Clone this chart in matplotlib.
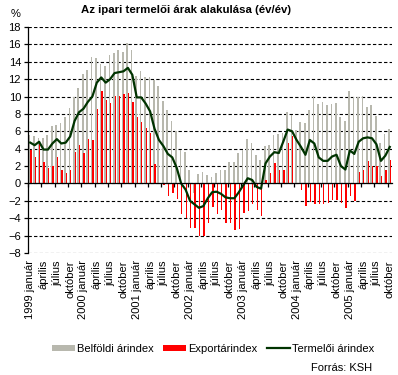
import matplotlib
matplotlib.use("Agg")
import matplotlib.pyplot as plt
import matplotlib.transforms as mtransforms
import numpy as np

plt.rcParams['font.family'] = ['Liberation Sans', 'DejaVu Sans']

# monthly data, 1999 January - 2005 October
years = [1999, 2000, 2001, 2002, 2003, 2004, 2005]
quarter_months = ['január', 'április', 'július', 'október']

belfoldi = [5.6, 5.5, 5.2, 5.2, 5.6, 6.6, 6.7, 7.0, 7.7, 8.7, 10.0, 11.0, 12.6, 13.1,
            14.6, 14.4, 13.8, 13.5, 14.8, 15.0, 15.4, 15.1, 16.2, 15.4, 12.4, 12.9, 12.2, 12.2,
            11.9, 11.2, 9.5, 8.4, 7.2, 6.0, 3.9, 3.6, 1.6, -1.05, 1.1, 1.3, 1.0,
            0.7, 1.2, 1.5, 1.6, 2.5, 2.5, 3.55, 3.8, 5.1, 4.7, 3.3, 2.7, 4.3,
            4.4, 5.6, 5.7, 5.8, 8.2, 7.9, 6.2, 7.1, 7.0, 8.5, 10.1, 9.1, 9.4, 9.0,
            9.1, 9.3, 7.7, 7.2, 10.6, 9.9, 10.0, 10.1, 8.8, 9.0, 7.8, 4.7, 5.7, 6.3]

export = [3.9, 3.1, 4.5, 2.5, 1.8, 2.0, 3.1, 1.55, 1.25, 1.55, 3.6, 4.4, 3.5, 5.1,
          5.0, 8.6, 10.6, 9.6, 9.2, 10.1, 10.1, 10.3, 10.4, 9.4, 7.7, 7.1, 6.4, 5.8,
          2.2, 0.0, -0.2, -1.4, -1.1, -1.8, -3.55, -4.0, -5.1, -5.1, -6.0, -6.0, -4.6,
          -2.7, -3.5, -3.1, -4.6, -4.6, -5.4, -5.2, -3.4, -3.2, -2.4, -3.0, -3.7, 0.4,
          1.25, 2.3, 1.55, 1.6, 4.7, 5.5, 0.0, -0.8, -2.6, -2.1, -2.4, -2.35, -2.35, -2.3,
          -1.9, -1.9, -2.2, -2.8, -1.4, -2.0, 1.35, 1.6, 2.6, 2.0, 2.0, 0.9, 1.6, 2.7]

termelo = [4.7, 4.4, 4.8, 3.9, 3.9, 4.6, 5.1, 4.6, 4.7, 5.4, 7.2, 8.2, 8.6, 9.4,
           10.0, 11.6, 12.2, 11.6, 12.0, 12.7, 12.8, 12.9, 13.3, 12.5, 9.9, 9.9, 9.2, 8.3,
           6.3, 5.0, 4.3, 3.4, 3.0, 1.8, 0.0, -0.7, -2.0, -2.4, -2.8, -2.6, -1.7,
           -1.0, -0.95, -1.2, -1.6, -1.7, -1.7, -1.0, -0.2, 0.6, 0.4, -0.4, -0.6, 2.3,
           3.1, 3.6, 3.5, 4.8, 6.2, 6.0, 5.0, 4.2, 3.3, 5.0, 4.6, 3.0, 2.6, 2.6,
           3.1, 3.3, 2.0, 1.6, 3.8, 3.4, 4.8, 5.2, 5.3, 5.2, 4.5, 2.6, 3.2, 4.2]

n = len(belfoldi)
x = np.arange(n)

# tick labels every quarter
labels = []
for y in years:
    for i, m in enumerate(quarter_months):
        labels.append(f"{y} {m}" if i == 0 else m)
labels = labels[:len(range(0, n, 3))]

fig = plt.figure(figsize=(3.98, 3.75), dpi=100)
ax = fig.add_axes([28 / 398, 1 - 253 / 375, 364 / 398, 226 / 375])

b1 = ax.bar(x - 0.16, belfoldi, width=0.38, color='#b8b8ae', linewidth=0, zorder=2,
            label='Belföldi árindex')
b2 = ax.bar(x + 0.14, export, width=0.3, color='#ff0000', linewidth=0, zorder=3,
            label='Exportárindex')
l1, = ax.plot(x, termelo, color='#003300', linewidth=1.6, zorder=4,
              label='Termelői árindex')

ax.set_xlim(-0.5, n - 0.5)
ax.set_ylim(-8, 18)
ax.set_yticks(np.arange(-8, 19, 2))
ax.yaxis.grid(True, color='black', linestyle=(0, (3, 2)), linewidth=0.8, zorder=0)
ax.set_axisbelow(True)

for s in ['top', 'right']:
    ax.spines[s].set_visible(False)
ax.spines['bottom'].set_position(('data', 0))
ax.spines['bottom'].set_zorder(5)
ax.spines['left'].set_linewidth(0.9)
ax.spines['bottom'].set_linewidth(0.9)

ax.set_xticks(np.arange(-0.5, n, 3))
ax.set_xticklabels([])
ax.tick_params(axis='x', direction='out', length=3, width=0.9)
ax.tick_params(axis='y', direction='out', length=3, width=0.9, labelsize=8, pad=2)

trans = mtransforms.blended_transform_factory(ax.transData, ax.transAxes)
for pos, lab in zip(range(0, n, 3), labels):
    ax.text(pos, -0.032, lab, transform=trans, rotation=90, ha='center', va='top',
            fontsize=8)

fig.text(16 / 398, 1 - 14 / 375, '%', ha='center', va='center', fontsize=8)
fig.text(186 / 398, 1 - 10 / 375, 'Az ipari termelői árak alakulása (év/év)',
         ha='center', va='center', fontsize=8.2, fontweight='bold')

fig.legend(handles=[b1, b2, l1], loc='center', bbox_to_anchor=(213 / 398, 1 - 349 / 375),
           ncol=3, frameon=False, fontsize=8, handlelength=2.1, handleheight=0.5,
           handletextpad=0.2, columnspacing=0.8, borderpad=0)

fig.text(372 / 398, 1 - 368 / 375, 'Forrás: KSH', ha='right', va='center', fontsize=8)

fig.savefig('out.png', dpi=100)
